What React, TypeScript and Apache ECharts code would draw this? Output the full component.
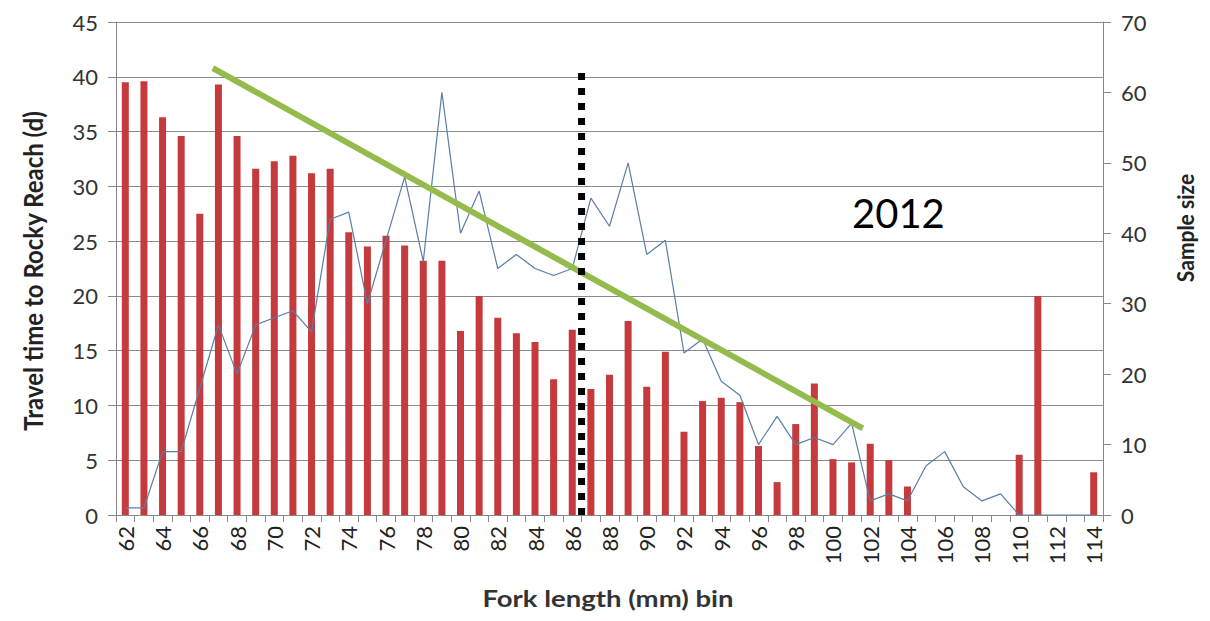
import React, { useEffect, useRef } from "react";
import * as echarts from "echarts";

const categories: string[] = [];
for (let v = 62; v <= 114; v++) categories.push(String(v));

const travelTime = [
  39.5, 39.6, 36.3, 34.6, 27.5, 39.3, 34.6, 31.6, 32.3, 32.8,
  31.2, 31.6, 25.8, 24.5, 25.5, 24.6, 23.2, 23.2, 16.8, 20.0,
  18.0, 16.6, 15.8, 12.4, 16.9, 11.5, 12.8, 17.7, 11.7, 14.9,
  7.6, 10.4, 10.7, 10.3, 6.3, 3.0, 8.3, 12.0, 5.1, 4.8,
  6.5, 5.0, 2.6, 0, 0, 0, 0, 0, 5.5, 20.0,
  0, 0, 3.9,
];

const sampleSize = [
  1, 1, 9, 9, 18, 27, 20, 27, 28, 29,
  26, 42, 43, 30, 39, 48, 36, 60, 40, 46,
  35, 37, 35, 34, 35, 45, 41, 50, 37, 39,
  23, 25, 19, 17, 10, 14, 10, 11, 10, 13,
  2, 3, 2, 7, 9, 4, 2, 3, 0, 0,
  0, 0, 0,
];

const trendLine = [
  [66.7, 40.8],
  [101.6, 7.9],
];

const divider = [
  [86.5, 0],
  [86.5, 40.4],
];

const leftTitle = "Travel time to Rocky Reach (d)";
const rightTitle = "Sample size";
const bottomTitle = "Fork length (mm) bin";
const yearLabel = "2012";

const FONT = "Lato";

export default function App() {
  const ref = useRef<HTMLDivElement>(null);
  useEffect(() => {
    if (!ref.current) return;
    const chart = echarts.init(ref.current, null, { renderer: "svg" });
    chart.setOption({
      animation: false,
      backgroundColor: "#ffffff",
      textStyle: { fontFamily: FONT },
      grid: { left: 116, right: 107, top: 22, bottom: 106, containLabel: false },
      xAxis: [
        {
          type: "category",
          data: categories,
          boundaryGap: true,
          axisLine: { lineStyle: { color: "#888888", width: 1 } },
          axisTick: { show: true, interval: 0, length: 7, lineStyle: { color: "#888888" } },
          axisLabel: { interval: 1, rotate: 90, fontSize: 22, color: "#222222", margin: 11, fontFamily: FONT },
          splitLine: { show: false },
        },
        {
          type: "value",
          min: 61.5,
          max: 114.5,
          show: false,
        },
      ],
      yAxis: [
        {
          type: "value",
          min: 0,
          max: 45,
          interval: 5,
          position: "left",
          axisLine: { show: true, lineStyle: { color: "#888888" } },
          axisTick: { show: true, length: 8, lineStyle: { color: "#888888" } },
          axisLabel: { fontSize: 22, color: "#333333", margin: 18, fontFamily: FONT },
          splitLine: { show: true, lineStyle: { color: "#8c8c8c", width: 1 } },
        },
        {
          type: "value",
          min: 0,
          max: 70,
          interval: 10,
          position: "right",
          axisLine: { show: true, lineStyle: { color: "#888888" } },
          axisTick: { show: true, length: 8, lineStyle: { color: "#888888" } },
          axisLabel: { fontSize: 22, color: "#333333", margin: 18, fontFamily: FONT },
          splitLine: { show: false },
        },
      ],
      series: [
        {
          type: "bar",
          name: "Travel time",
          data: travelTime,
          xAxisIndex: 0,
          yAxisIndex: 0,
          barWidth: 7,
          itemStyle: { color: "#c43a3d" },
        },
        {
          type: "line",
          name: "Sample size",
          data: sampleSize,
          xAxisIndex: 0,
          yAxisIndex: 1,
          symbol: "none",
          lineStyle: { color: "#5a7ea8", width: 1.2 },
        },
        {
          type: "line",
          name: "Trend",
          data: trendLine,
          xAxisIndex: 1,
          yAxisIndex: 0,
          symbol: "none",
          lineStyle: { color: "#95bb4c", width: 6, cap: "butt" },
        },
        {
          type: "line",
          name: "Divider",
          data: divider,
          xAxisIndex: 1,
          yAxisIndex: 0,
          symbol: "none",
          lineStyle: { color: "#000000", width: 7, type: [7, 8], cap: "butt" },
        },
      ],
      graphic: [
        {
          type: "text",
          x: 852,
          y: 193,
          style: { text: yearLabel, fontSize: 40, fill: "#000000", fontFamily: FONT },
        },
        {
          type: "text",
          x: 33,
          y: 271,
          rotation: Math.PI / 2,
          scaleY: 1.1,
          style: {
            text: leftTitle,
            fontSize: 24,
            fontWeight: "bold",
            fill: "#222222",
            fontFamily: FONT,
            align: "center",
            verticalAlign: "middle",
          },
        },
        {
          type: "text",
          x: 1185,
          y: 228,
          rotation: Math.PI / 2,
          scaleY: 1.1,
          style: {
            text: rightTitle,
            fontSize: 21,
            fontWeight: "bold",
            fill: "#222222",
            fontFamily: FONT,
            align: "center",
            verticalAlign: "middle",
          },
        },
        {
          type: "text",
          x: 608,
          y: 598,
          scaleX: 1.25,
          style: {
            text: bottomTitle,
            fontSize: 22,
            fontWeight: "bold",
            fill: "#333333",
            fontFamily: FONT,
            align: "center",
            verticalAlign: "middle",
          },
        },
      ],
    });
    return () => chart.dispose();
  }, []);
  return (
    <div
      ref={ref}
      style={{ position: "absolute", left: 0, top: 0, width: 1210, height: 621 }}
    />
  );
}
